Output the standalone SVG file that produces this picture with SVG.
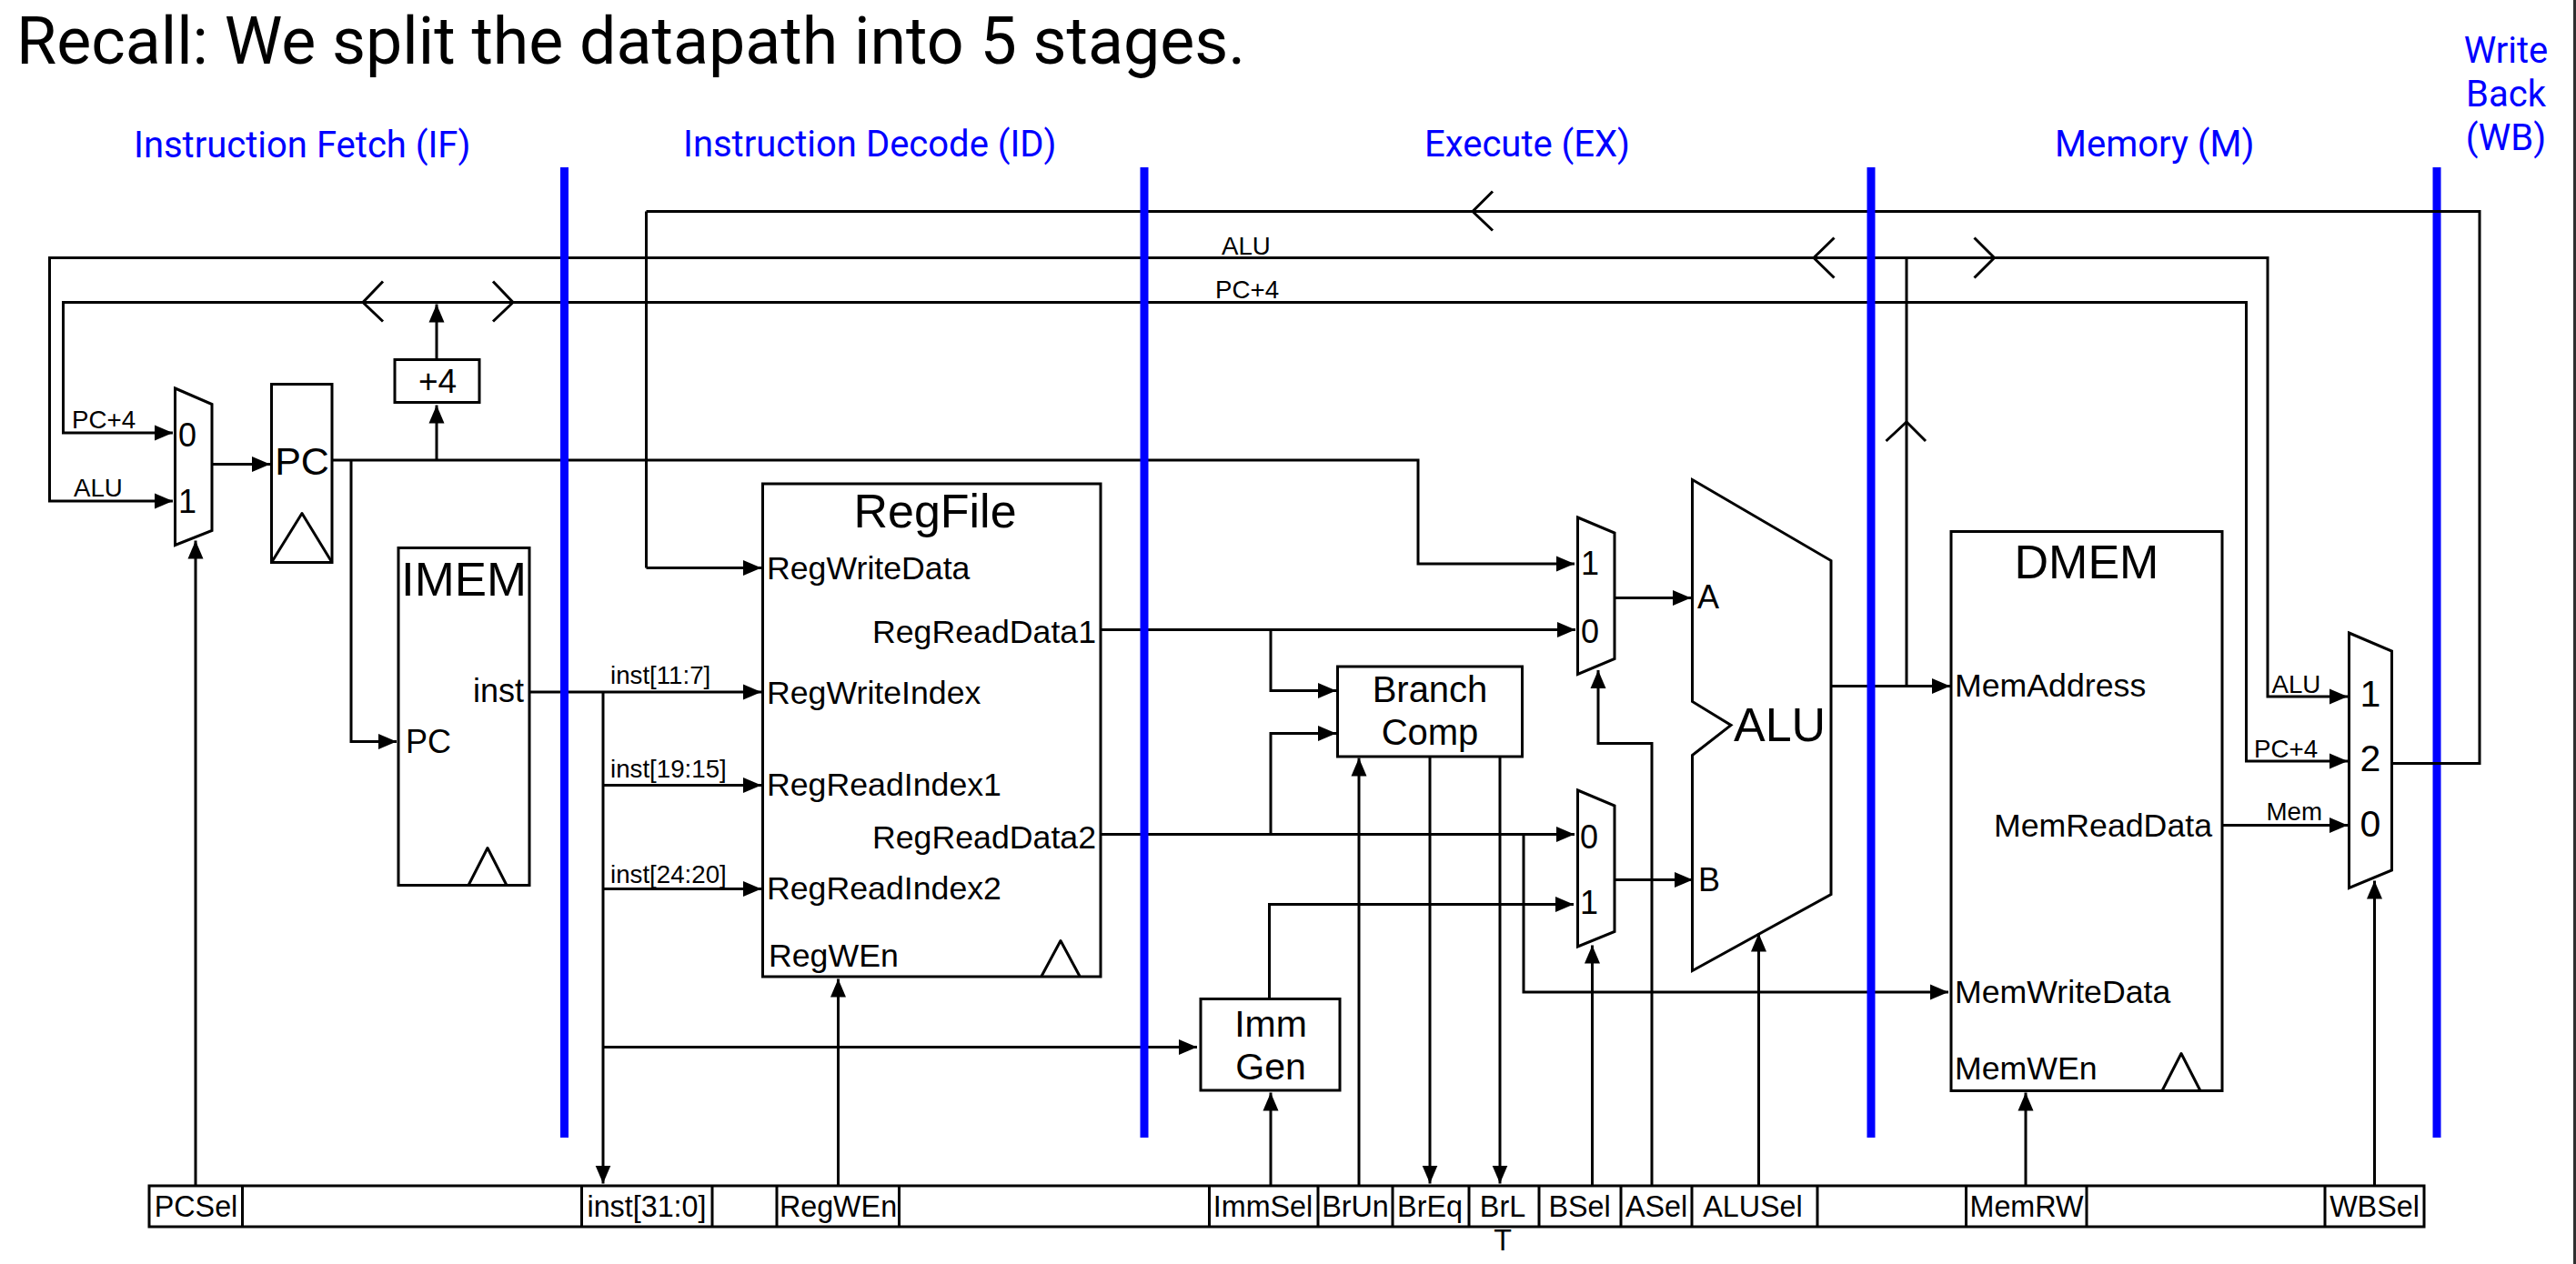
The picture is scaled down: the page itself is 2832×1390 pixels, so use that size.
<svg xmlns="http://www.w3.org/2000/svg" width="2832" height="1390" viewBox="0 0 2832 1390">
<style>
text{font-family:"Liberation Sans",Arial,sans-serif;fill:#000}
.r{font-family:Roboto,"Liberation Sans",sans-serif}
.blue{fill:#00f;font-size:40px}
.title{font-size:71.7px}
.f35{font-size:35.7px}
.f36{font-size:36px}
.f27{font-size:27.7px}
.f32{font-size:32.3px}
.f39{font-size:40px}
.f41{font-size:41px}
.f52{font-size:52px}
.m{text-anchor:middle}
.e{text-anchor:end}
.box{fill:#fff;stroke:#000;stroke-width:3}
.tri{fill:none;stroke:#000;stroke-width:3;stroke-linejoin:round}
.w{fill:none;stroke:#000;stroke-width:3}
.a{fill:none;stroke:#000;stroke-width:3;marker-end:url(#ah)}
.ch{fill:none;stroke:#000;stroke-width:3}
.pipe{fill:#00f}
</style>
<defs>
<marker id="ah" markerUnits="userSpaceOnUse" viewBox="0 0 20 18" refX="20" refY="9" markerWidth="20" markerHeight="18" orient="auto"><path d="M0 .5L20 9L0 17.500Z" fill="#000"/></marker>
</defs>
<rect width="2832" height="1390" fill="#fff"/>
<rect id="edge" x="2829" y="0" width="3" height="1390" fill="#2f2f2f"/>
<g id="labels">
<text class="r title" x="18" y="69.500">Recall: We split the datapath into 5 stages.</text>
<text class="r blue" x="147" y="173">Instruction Fetch (IF)</text>
<text class="r blue" x="751" y="172">Instruction Decode (ID)</text>
<text class="r blue" x="1566" y="172">Execute (EX)</text>
<text class="r blue" x="2259" y="172">Memory (M)</text>
<text class="r blue m" x="2755" y="69">Write</text>
<text class="r blue m" x="2755" y="117">Back</text>
<text class="r blue m" x="2755" y="165">(WB)</text>
</g>
<g id="diagram" transform="translate(0 1.5)">
<g id="node-imem"><rect class="box" x="438" y="601" width="144" height="371"/>
<path class="tri" d="M515 972L536 931L557 972"/>
<text class="f52 m" x="510" y="653" textLength="138" lengthAdjust="spacingAndGlyphs">IMEM</text>
<text class="f36 e" x="576" y="770">inst</text>
<text class="f36" x="446" y="826">PC</text></g>
<g id="node-regfile"><rect class="box" x="838.5" y="530.5" width="371.500" height="542"/>
<path class="tri" d="M1145 1072L1166 1033L1187 1072"/>
<text class="f52 m" x="1028" y="578">RegFile</text>
<text class="f35" x="843" y="635">RegWriteData</text>
<text class="f35 e" x="1205" y="705">RegReadData1</text>
<text class="f35" x="843" y="772">RegWriteIndex</text>
<text class="f35" x="843" y="873">RegReadIndex1</text>
<text class="f35 e" x="1205" y="931">RegReadData2</text>
<text class="f35" x="843" y="987">RegReadIndex2</text>
<text class="f35" x="845" y="1061">RegWEn</text></g>
<g id="node-dmem"><rect class="box" x="2145" y="583" width="298" height="615"/>
<path class="tri" d="M2377 1198L2398 1157L2419 1198"/>
<text class="f52 m" x="2294" y="634">DMEM</text>
<text class="f35" x="2149" y="764">MemAddress</text>
<text class="f35 e" x="2432" y="918">MemReadData</text>
<text class="f35" x="2149" y="1101">MemWriteData</text>
<text class="f35" x="2149" y="1185">MemWEn</text></g>
<g id="node-alu"><path class="box" d="M1860.500 526L2013 615V982L1860.500 1066V829L1903 796L1860.500 770Z"/>
<text class="f52" x="1906" y="813">ALU</text>
<text class="f36" x="1866" y="667">A</text>
<text class="f36" x="1867" y="978">B</text></g>
<g id="node-pcmux"><path class="box" d="M192.500 425.500L233 443V582L192.500 598Z"/>
<text class="f36 m" x="206" y="489">0</text>
<text class="f36 m" x="206" y="562">1</text></g>
<g id="node-pc"><rect class="box" x="298.500" y="421" width="66.500" height="196"/>
<path class="tri" d="M298.500 617L332 563L365 617"/>
<text class="f39 m" x="332" y="520" style="font-size:43px">PC</text></g>
<g id="node-plus4"><rect class="box" x="434" y="394" width="93" height="47"/>
<text class="f36 m" x="481" y="430" style="font-size:37px">+4</text></g>
<g id="node-amux"><path class="box" d="M1734.500 567.500L1775 584.500V723L1734.500 740Z"/>
<text class="f36 m" x="1748" y="630">1</text>
<text class="f36 m" x="1748" y="705">0</text></g>
<g id="node-bmux"><path class="box" d="M1734.500 867.500L1775 884.500V1023L1734.500 1039.500Z"/>
<text class="f36 m" x="1747" y="931">0</text>
<text class="f36 m" x="1747" y="1003">1</text></g>
<g id="node-branchcomp"><rect class="box" x="1470.500" y="731.500" width="203" height="99"/>
<text class="f39 m" x="1572" y="770">Branch</text>
<text class="f39 m" x="1572" y="817">Comp</text></g>
<g id="node-immgen"><rect class="box" x="1320" y="1097" width="153" height="100.500"/>
<text class="f41 m" x="1397" y="1138">Imm</text>
<text class="f41 m" x="1397" y="1185">Gen</text></g>
<g id="node-wbmux"><path class="box" d="M2582.500 694.500L2629.500 714.500V955.500L2582.500 975Z"/>
<text class="f41 m" x="2606" y="775">1</text>
<text class="f41 m" x="2606" y="846">2</text>
<text class="f41 m" x="2606" y="918">0</text></g>
<g id="node-control"><rect class="box" x="164" y="1302.500" width="2501" height="45"/>
<path class="w" d="M266.500 1302V1348M639.500 1302V1348M783 1302V1348M854 1302V1348M988.500 1302V1348M1329.500 1302V1348M1449 1302V1348M1531 1302V1348M1615 1302V1348M1692 1302V1348M1782 1302V1348M1860 1302V1348M1998 1302V1348M2161.500 1302V1348M2294 1302V1348M2556 1302V1348"/>
<text class="f32 m" x="215.500" y="1336">PCSel</text>
<text class="f32 m" x="711" y="1336">inst[31:0]</text>
<text class="f32 m" x="921.500" y="1336">RegWEn</text>
<text class="f32 m" x="1388.500" y="1336">ImmSel</text>
<text class="f32 m" x="1490" y="1336">BrUn</text>
<text class="f32 m" x="1572" y="1336">BrEq</text>
<text class="f32 m" x="1652" y="1336">BrL</text>
<text class="f32 m" x="1736.500" y="1336">BSel</text>
<text class="f32 m" x="1821" y="1336">ASel</text>
<text class="f32 m" x="1927" y="1336">ALUSel</text>
<text class="f32 m" x="2228" y="1336">MemRW</text>
<text class="f32 m" x="2610.500" y="1336">WBSel</text>
<text class="f32 m" x="1652" y="1373">T</text></g>
<g id="connectors">
<path class="w" d="M710.500 231V623"/>
<path class="w" d="M2630 838H2726V231H710.500"/>
<path class="a" d="M710.500 623H837"/>
<path class="a" d="M2096 282H54.500V549.500H190"/>
<path class="a" d="M2096 282H2493V764.500H2581"/>
<path class="a" d="M480 331H69.500V474.500H190"/>
<path class="a" d="M480 331H2469.500V835.500H2581"/>
<path class="a" d="M233 509H297"/>
<path class="a" d="M480 504.500V444"/>
<path class="a" d="M480 394V333"/>
<path class="a" d="M365 504.500H1559V618.500H1731"/>
<path class="a" d="M386 504.500V814H436"/>
<path class="a" d="M582 759.500H837"/>
<path class="a" d="M663 759.500V1300"/>
<path class="a" d="M663 862H837"/>
<path class="a" d="M663 976H837"/>
<path class="a" d="M663 1150H1316"/>
<path class="a" d="M1210 691H1732"/>
<path class="a" d="M1397 691V758H1469"/>
<path class="a" d="M1210 916H1731"/>
<path class="a" d="M1397 916V805H1469"/>
<path class="a" d="M1675 916V1089.500H2142"/>
<path class="a" d="M1395.500 1097V993H1730"/>
<path class="a" d="M1775 656H1859"/>
<path class="a" d="M1775 966H1861"/>
<path class="a" d="M2013 753H2144"/>
<path class="w" d="M2096 753V282"/>
<path class="a" d="M2444 906H2581"/>
<path class="a" d="M215 1302V593"/>
<path class="a" d="M921.500 1302V1075"/>
<path class="a" d="M1397 1302V1200"/>
<path class="a" d="M1494 1302V832"/>
<path class="a" d="M1572 831V1300"/>
<path class="a" d="M1649 831V1300"/>
<path class="a" d="M1750.500 1302V1038"/>
<path class="a" d="M1816 1302V816H1757V735.500"/>
<path class="a" d="M1933.500 1302V1025"/>
<path class="a" d="M2227 1302V1200"/>
<path class="a" d="M2610.500 1302V967"/>
<path class="ch" d="M421 308L399 331L421 352"/>
<path class="ch" d="M542 308L564 331L542 352"/>
<path class="ch" d="M1641 209L1619 231L1641 252"/>
<path class="ch" d="M2016.500 260L1994 282L2016.500 304"/>
<path class="ch" d="M2170.500 260L2192.500 282L2170.500 304"/>
<path class="ch" d="M2073.500 483.500L2096 462.500L2117 483.500"/>
<text class="f27" x="79" y="469">PC+4</text>
<text class="f27" x="81" y="544">ALU</text>
<text class="f27" x="1343" y="278">ALU</text>
<text class="f27" x="1336" y="326.500">PC+4</text>
<text class="f27" x="671" y="750">inst[11:7]</text>
<text class="f27" x="671" y="853">inst[19:15]</text>
<text class="f27" x="671" y="969">inst[24:20]</text>
<text class="f27" x="2497.500" y="760.500">ALU</text>
<text class="f27" x="2478" y="831.500">PC+4</text>
<text class="f27" x="2491.500" y="900.500">Mem</text>
</g>
</g>
<g id="pipeline-bars">
<rect class="pipe" x="616" y="184" width="9" height="1067"/>
<rect class="pipe" x="1253.500" y="184" width="9" height="1067"/>
<rect class="pipe" x="2052.500" y="184" width="9" height="1067"/>
<rect class="pipe" x="2674.500" y="184" width="9" height="1067"/>
</g>
<g id="wb-overlay" transform="translate(0 1.5)"><path class="w" d="M2670 231H2690M2670 838H2690"/></g>
</svg>
